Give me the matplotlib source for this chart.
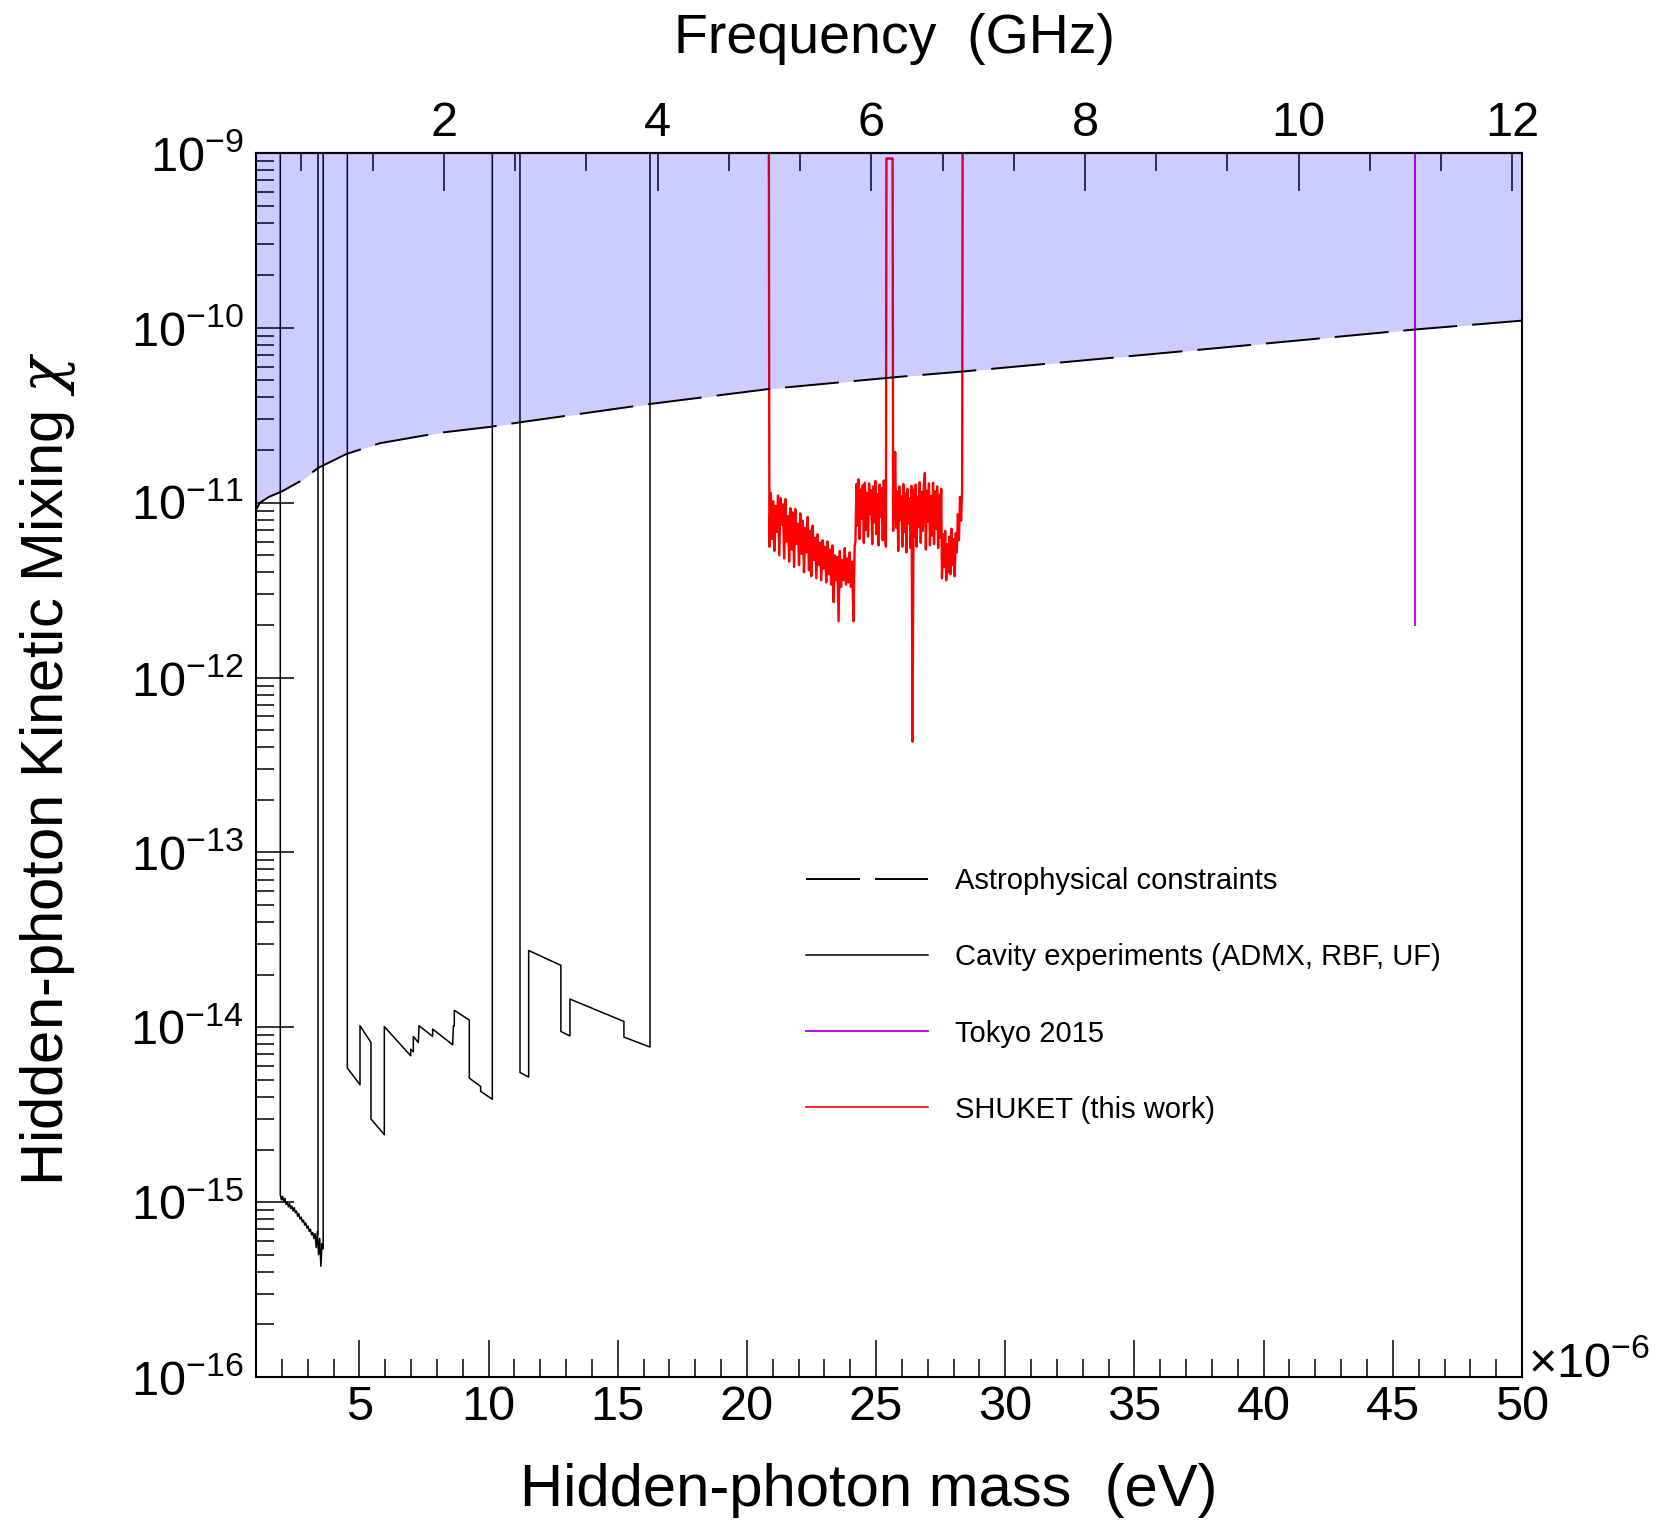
import numpy as np
import matplotlib
matplotlib.use("Agg")
import matplotlib.pyplot as plt
from matplotlib.lines import Line2D
from matplotlib.ticker import MultipleLocator, FixedLocator, LogLocator, NullFormatter


plt.rcParams['font.family'] = ['Liberation Sans', 'DejaVu Sans']
plt.rcParams['mathtext.fontset'] = 'custom'
plt.rcParams['mathtext.rm'] = 'Liberation Sans'
plt.rcParams['mathtext.it'] = 'DejaVu Serif:italic'
plt.rcParams['mathtext.bf'] = 'Liberation Sans:bold'


# DATA  (mass in units of 1e-6 eV)

chi_top = 1e-9
ueV_to_GHz = 0.241799

mass_ticks = [5, 10, 15, 20, 25, 30, 35, 40, 45, 50]
freq_ticks = [2, 4, 6, 8, 10, 12]

# astrophysical constraints (dashed, shaded above)
astro_mass = [1.0, 1.15, 1.5, 2.0, 2.8, 3.4, 4.5, 5.8, 8.1, 10.1, 11.2,
              16.25, 20.85, 25.9, 28.3, 37.9, 45.8, 50.0]
astro_chi = [9.1e-12, 1.0e-11, 1.08e-11, 1.16e-11, 1.35e-11, 1.58e-11,
             1.9e-11, 2.19e-11, 2.51e-11, 2.72e-11, 2.88e-11, 3.67e-11,
             4.47e-11, 5.25e-11, 5.62e-11, 7.59e-11, 9.77e-11, 1.1e-10]

# ADMX scan, 1.94 - 3.60 ueV (units of 1e-16)
admx_range = (1.94, 3.60)
admx_chi = [11.0, 10.3, 10.8, 10.1, 10.5, 9.7, 10.0, 9.4, 9.8, 9.2,
            9.5, 8.9, 9.3, 8.7, 8.9, 8.3, 8.6, 8.0, 8.2, 7.7,
            7.9, 7.4, 7.6, 7.1, 7.3, 6.8, 7.0, 6.5, 6.7, 6.2,
            6.6, 5.5, 6.8, 5.0, 6.2, 4.3, 5.8, 5.4]
admx_edge_mass = 3.41
admx_edge_chi = 6.6e-16

# RBF / UF cavity limits
rbf_mass = [4.535, 4.535, 5.025, 5.025, 5.45, 5.45, 5.966, 5.966, 6.986, 6.986,
            7.089, 7.089, 7.282, 7.31, 7.837, 7.837, 8.611, 8.64, 8.675, 8.675,
            9.256, 9.256, 9.694, 9.694, 10.146, 10.146]
rbf_chi = [1e-9, 5.85e-15, 4.69e-15, 1.02e-14, 8.18e-15, 2.99e-15, 2.43e-15, 1.01e-14, 6.87e-15, 7.5e-15,
           7.24e-15, 8.87e-15, 8.18e-15, 1.02e-14, 8.87e-15, 9.77e-15, 7.94e-15, 1.02e-14, 1.02e-14, 1.25e-14,
           1.10e-14, 5.12e-15, 4.59e-15, 4.30e-15, 3.88e-15, 1e-9]

uf_mass = [11.217, 11.217, 11.552, 11.552, 12.80, 12.80, 13.15, 13.15,
           15.24, 15.24, 16.25, 16.25]
uf_chi = [1e-9, 5.52e-15, 5.19e-15, 2.75e-14, 2.26e-14, 9.46e-15, 8.93e-15, 1.45e-14,
          1.08e-14, 8.79e-15, 7.71e-15, 1e-9]

# Tokyo 2015
tokyo_mass = 45.84
tokyo_chi = 2.0e-12

# SHUKET (this work), units of 1e-12
shuket_edges = (20.85, 28.35)
shuket_seg1_range = (20.87, 24.17)
shuket_seg1 = [5.6, 11.4, 6.2, 10.2, 5.3, 9.6, 6.8, 11.0, 5.0, 10.6,
               7.5, 9.8, 4.8, 10.5, 6.0, 8.4, 4.6, 9.3, 5.4, 8.8,
               4.3, 9.2, 5.8, 7.6, 4.4, 8.7, 5.1, 7.9, 4.0, 7.2,
               5.2, 8.3, 4.1, 6.9, 3.8, 7.4, 4.7, 6.3, 3.7, 6.6,
               4.4, 5.9, 3.6, 6.1, 4.2, 5.6, 3.5, 6.0, 3.9, 5.4,
               3.4, 5.7, 2.7, 5.0, 3.6, 4.9, 2.1, 5.3, 3.3, 4.7,
               3.6, 5.5, 3.4, 4.8, 3.5, 5.2, 3.3, 4.6, 2.1, 5.6]
shuket_seg2_range = (24.20, 25.38)
shuket_seg2 = [6.0, 12.8, 7.4, 13.6, 6.2, 11.9, 8.1, 12.6, 5.9, 13.0,
               7.0, 11.4, 6.4, 12.9, 8.6, 11.8, 5.8, 12.4, 7.7, 13.3,
               6.6, 11.2, 5.7, 12.7, 8.3, 12.1, 6.1, 13.4, 7.2, 5.6]
shuket_gap_mass = [25.40, 25.64]
shuket_gap_chi = 930.0
shuket_seg3_range = (25.66, 27.52)
shuket_seg3 = [6.9, 12.2, 19.5, 7.2, 11.6, 5.3, 12.4, 8.0, 10.9, 5.6,
               12.8, 6.8, 11.3, 5.2, 12.0, 7.6, 10.6, 5.5, 12.5, 0.43,
               11.9, 6.4, 12.7, 5.6, 10.8, 7.3, 13.1, 5.9, 11.5, 6.9,
               12.3, 14.8, 5.4, 11.7, 7.8, 12.9, 5.7, 10.9, 6.5, 13.0,
               5.8, 11.6, 7.1, 12.4, 5.5, 11.1, 6.3, 12.0]
shuket_seg4_range = (27.55, 28.33)
shuket_seg4 = [3.7, 6.6, 4.3, 6.9, 3.6, 5.8, 4.0, 6.4, 3.9, 7.1,
               4.4, 6.2, 3.8, 6.7, 5.2, 8.6, 6.1, 10.8, 7.9, 11.6]


# BUILD PATHS

admx_m = np.linspace(*admx_range, len(admx_chi))
admx_x = np.concatenate([[admx_range[0]], admx_m, [admx_range[1]]])
admx_y = np.concatenate([[chi_top], np.array(admx_chi) * 1e-16, [chi_top]])

seg_x, seg_y = [[shuket_edges[0]]], [[chi_top]]
for rng, vals in [(shuket_seg1_range, shuket_seg1), (shuket_seg2_range, shuket_seg2)]:
    seg_x.append(np.linspace(*rng, len(vals)))
    seg_y.append(np.array(vals) * 1e-12)
seg_x.append(shuket_gap_mass)
seg_y.append([shuket_gap_chi * 1e-12] * 2)
for rng, vals in [(shuket_seg3_range, shuket_seg3), (shuket_seg4_range, shuket_seg4)]:
    seg_x.append(np.linspace(*rng, len(vals)))
    seg_y.append(np.array(vals) * 1e-12)
seg_x.append([shuket_edges[1]])
seg_y.append([chi_top])
shuket_x = np.concatenate(seg_x)
shuket_y = np.concatenate(seg_y)


# PLOT

fig = plt.figure(figsize=(16.64, 15.20), dpi=100)
ax = fig.add_axes([0.15385, 0.09408, 0.76082, 0.80526])

lw = 1.1
dash = (54 * 0.72 / 1.4, 15 * 0.72 / 1.4)

ax.plot(admx_x, admx_y, color='black', lw=lw, zorder=2)
ax.plot([admx_edge_mass, admx_edge_mass], [chi_top, admx_edge_chi], color='black', lw=lw, zorder=2)
ax.plot(rbf_mass, rbf_chi, color='black', lw=lw, zorder=2)
ax.plot(uf_mass, uf_chi, color='black', lw=lw, zorder=2)
ax.plot([tokyo_mass, tokyo_mass], [chi_top, tokyo_chi], color='#cc00ff', lw=1.4, zorder=2)
ax.plot(shuket_x, shuket_y, color='red', lw=1.7, zorder=2)

ax.fill_between(astro_mass, astro_chi, chi_top, color='blue', alpha=0.2, lw=0, zorder=2.6)
ax.plot(astro_mass, astro_chi, color='black', lw=1.4, ls=(0, dash), zorder=3)

ax.set_xlim(1, 50)
ax.set_yscale('log')
ax.set_ylim(1e-16, 1e-9)

ax.xaxis.set_major_locator(FixedLocator(mass_ticks))
ax.xaxis.set_minor_locator(MultipleLocator(1))
ax.yaxis.set_major_locator(LogLocator(base=10, numticks=20))
ax.yaxis.set_minor_locator(LogLocator(base=10, subs=np.arange(2, 10), numticks=20))
ax.yaxis.set_minor_formatter(NullFormatter())

ax.tick_params(which='both', direction='in', top=False, right=False, width=1.1)
ax.tick_params(which='major', length=27, labelsize=35)
ax.tick_params(which='minor', length=13)
ax.tick_params(axis='x', which='major', pad=6)
ax.tick_params(axis='y', which='major', pad=9)
for s in ax.spines.values():
    s.set_linewidth(1.5)

# frequency axis on top
sec = ax.secondary_xaxis('top', functions=(lambda m: m * ueV_to_GHz,
                                           lambda f: f / ueV_to_GHz))
sec.xaxis.set_major_locator(FixedLocator(freq_ticks))
sec.xaxis.set_minor_locator(MultipleLocator(2 / 3))
sec.tick_params(which='both', direction='in', width=1.1)
sec.tick_params(which='major', length=27, labelsize=35, pad=5)
sec.tick_params(which='minor', length=13)
sec.spines['top'].set_linewidth(1.5)

# axis titles
fig.text(0.5373, 0.9743, 'Frequency  (GHz)', fontsize=40, ha='center', va='center')
fig.text(0.5222, 0.0191, 'Hidden-photon mass  (eV)', fontsize=43, ha='center', va='center')
fig.text(0.0288, 0.4941, r'Hidden-photon Kinetic Mixing $\chi$', fontsize=43,
         ha='center', va='center', rotation=90)

ax.text(1.0047, 0.0, r'$\times\mathdefault{10^{-6}}$', transform=ax.transAxes,
        ha='left', va='baseline', fontsize=35)


# LEGEND

handles = [
    Line2D([], [], color='black', lw=1.4, ls=(0, dash)),
    Line2D([], [], color='black', lw=lw),
    Line2D([], [], color='#cc00ff', lw=1.4),
    Line2D([], [], color='red', lw=1.2),
]
labels = ['Astrophysical constraints',
          'Cavity experiments (ADMX, RBF, UF)',
          'Tokyo 2015',
          'SHUKET (this work)']
ax.legend(handles, labels, loc='upper left', bbox_to_anchor=(0.4344, 0.4164),
          frameon=False, fontsize=21, handlelength=4.18, handletextpad=0.92,
          labelspacing=1.65, borderpad=0, borderaxespad=0)

fig.savefig('out.png', dpi=100)
